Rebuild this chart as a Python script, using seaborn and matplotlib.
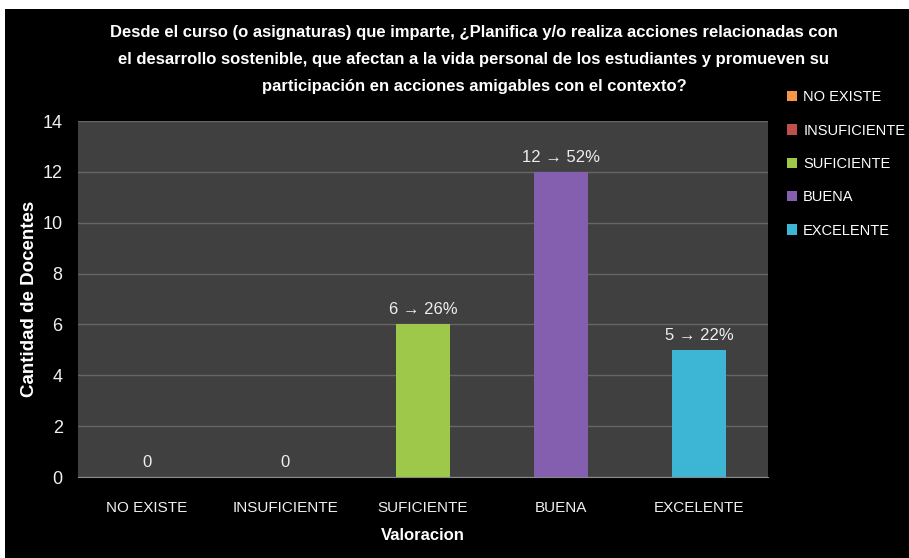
import numpy as np
import pandas as pd
import matplotlib
matplotlib.use('Agg')
import matplotlib.pyplot as plt
import seaborn as sns
from matplotlib.patches import Rectangle, Patch

categorias = ['NO EXISTE', 'INSUFICIENTE', 'SUFICIENTE', 'BUENA', 'EXCELENTE']
docentes   = [0, 0, 6, 12, 5]
porcentaje = [None, None, 26, 52, 22]
colores    = ['#F79646', '#C0504D', '#9DC84A', '#845FB0', '#3DB6D6']

titulo = ['Desde el curso (o asignaturas) que imparte, ¿Planifica y/o realiza acciones relacionadas con',
          'el desarrollo sostenible, que afectan a la vida personal de los estudiantes y promueven su',
          'participación en acciones amigables con el contexto?']

df = pd.DataFrame({'Valoracion': categorias, 'Docentes': docentes})

sns.set_style('dark')
plt.rcParams['font.family'] = ['Liberation Sans', 'DejaVu Sans']

fig = plt.figure(figsize=(9.09, 5.58), dpi=100, facecolor='black')
# thin white margin on top and left of the slide
fig.patches.append(Rectangle((0, 1 - 9 / 558), 1, 9 / 558, transform=fig.transFigure,
                             facecolor='white', edgecolor='none', zorder=-1))
fig.patches.append(Rectangle((0, 0), 5 / 909, 1, transform=fig.transFigure,
                             facecolor='white', edgecolor='none', zorder=-1))

ax = fig.add_axes([78 / 909, 1 - 477 / 558, 690 / 909, 356 / 558])
ax.set_facecolor('#404040')

sns.barplot(data=df, x='Valoracion', y='Docentes', hue='Valoracion',
            palette=colores, width=0.39, legend=False, ax=ax,
            edgecolor='none', saturation=1)

etiquetas = [f'{n} \u2192 {p}%' if p is not None else f'{n}'
             for n, p in zip(docentes, porcentaje)]
for cont, lab in zip(ax.containers, etiquetas):
    ax.bar_label(cont, labels=[lab], padding=5, color='#EEEEEE', fontsize=12)

ax.set_ylim(0, 14)
ax.set_yticks(range(0, 15, 2))
ax.grid(axis='y', color='#666666', linewidth=1)
ax.grid(axis='x', visible=False)
ax.set_axisbelow(True)
for s in ['top', 'right', 'left']:
    ax.spines[s].set_visible(False)
ax.spines['bottom'].set_visible(True)
ax.spines['bottom'].set_color('#8A8A8A')
ax.tick_params(axis='both', colors='#F0F0F0', length=0)
ax.tick_params(axis='x', pad=17, labelsize=11)
ax.tick_params(axis='y', pad=11, labelsize=13)

ax.set_xlabel('Valoracion', color='white', fontsize=12, fontweight='bold', labelpad=10)
ax.set_ylabel('Cantidad de Docentes', color='white', fontsize=13.5, fontweight='bold', labelpad=3)

# title, one line at a time (slide-style centred block)
for i, linea in enumerate(titulo):
    fig.text(474 / 909, 1 - (32 + 27 * i) / 558, linea, ha='center', va='center',
             color='white', fontsize=12, fontweight='bold')

handles = [Patch(facecolor=c, edgecolor='none', label=n) for c, n in zip(colores, categorias)]
fig.legend(handles=handles, loc='upper left', bbox_to_anchor=(774 / 909, 1 - 77 / 558),
           frameon=False, labelcolor='white', fontsize=10.5, handlelength=0.7,
           handleheight=0.7, handletextpad=0.4, labelspacing=1.33)

plt.savefig('out.png', dpi=100, facecolor=fig.get_facecolor())
